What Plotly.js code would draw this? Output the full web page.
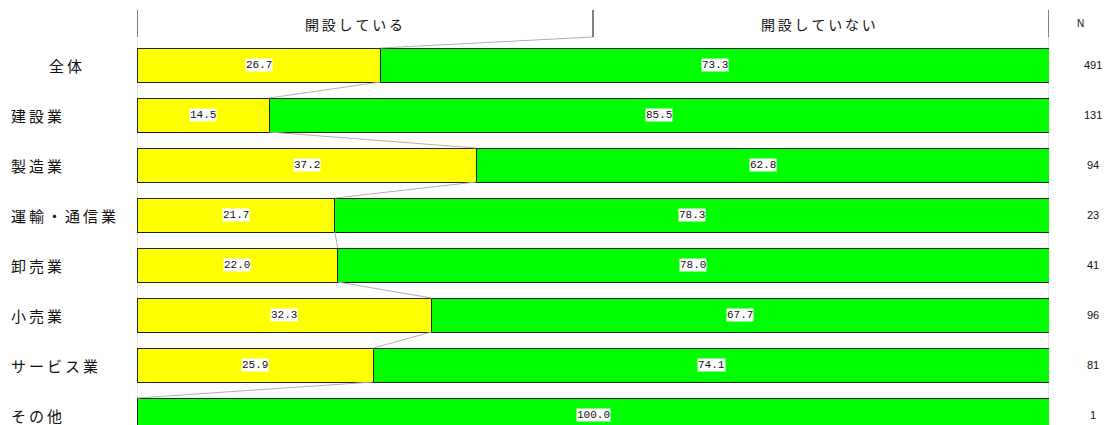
<!DOCTYPE html>
<html><head><meta charset="utf-8">
<script src="https://cdn.plot.ly/plotly-3.0.1.min.js"></script>
<style>html,body{margin:0;padding:0;background:#fff}#c{width:1107px;height:425px}</style>
</head><body><div id="c"></div>
<script>
const categories = ["全体","建設業","製造業","運輸・通信業","卸売業","小売業","サービス業","その他"];
const open = [26.7,14.5,37.2,21.7,22.0,32.3,25.9,0.0];
const notOpen = [73.3,85.5,62.8,78.3,78.0,67.7,74.1,100.0];
const nValues = [491,131,94,23,41,96,81,1];
const seriesNames = ["開設している","開設していない"];

const spaced = s => Array.from(s).join('\u2009');
const ys = categories.map((_,i)=>i);
const BW = 0.68;
const traces = [
  {type:'bar',orientation:'h',y:ys,x:open,name:seriesNames[0],width:BW,
   marker:{color:'#ffff00',line:{color:'#222',width:1}},hoverinfo:'skip'},
  {type:'bar',orientation:'h',y:ys,x:notOpen,name:seriesNames[1],width:BW,
   marker:{color:'#00ff00',line:{color:'#222',width:1}},hoverinfo:'skip'}
];
const connX=[], connY=[];
connX.push(50, open[0]); connY.push(-0.56, -BW/2); connX.push(null); connY.push(null);
for(let i=0;i<open.length-1;i++){
  connX.push(open[i], open[i+1]); connY.push(i+BW/2, i+1-BW/2);
  connX.push(null); connY.push(null);
}
traces.push({type:'scatter',mode:'lines',x:connX,y:connY,line:{color:'#b0b0b0',width:1},hoverinfo:'skip',showlegend:false});

const shapes = [];
[0,100].forEach(x=>shapes.push({type:'line',xref:'x',yref:'y',x0:x,x1:x,y0:-0.56,y1:7.5,line:{color:'#c8c8c8',width:1},layer:'below'}));
[0,50,100].forEach(x=>shapes.push({type:'line',xref:'x',yref:'y',x0:x,x1:x,y0:-1.1,y1:-0.56,line:{color:'#000',width:1}}));

const ann = [];
const PW = 912;
const catFont = {family:'Noto Sans CJK JP',size:15,color:'#111'};
categories.forEach((c,i)=>{
  if(i===0){
    ann.push({xref:'paper',yref:'y',x:(65-137)/PW,y:i,text:spaced(c),showarrow:false,xanchor:'center',font:catFont});
  } else {
    ann.push({xref:'paper',yref:'y',x:(9-137)/PW,y:i,text:spaced(c),showarrow:false,xanchor:'left',font:catFont});
  }
  ann.push({xref:'paper',yref:'y',x:(1093-137)/PW,y:i,text:String(nValues[i]),showarrow:false,xanchor:'center',font:{family:'Liberation Sans',size:11,color:'#111'}});
  if(open[i]>0) ann.push({xref:'x',yref:'y',x:open[i]/2,y:i,text:open[i].toFixed(1),showarrow:false,bgcolor:'#fff',borderpad:0,font:{family:'Liberation Mono',size:11,color:'#111'}});
  if(notOpen[i]>0) ann.push({xref:'x',yref:'y',x:open[i]+notOpen[i]/2,y:i,text:notOpen[i].toFixed(1),showarrow:false,bgcolor:'#fff',borderpad:0,font:{family:'Liberation Mono',size:11,color:'#111'}});
});
const hdrFont = {family:'Noto Sans CJK JP',size:14,color:'#111'};
ann.push({xref:'x',yref:'y',x:(354-137)/PW*100,y:-0.83,text:spaced(seriesNames[0]),showarrow:false,font:hdrFont});
ann.push({xref:'x',yref:'y',x:(818-137)/PW*100,y:-0.83,text:spaced(seriesNames[1]),showarrow:false,font:hdrFont});
ann.push({xref:'paper',yref:'y',x:(1086-137)/PW,y:-0.83,text:'N',showarrow:false,font:{family:'Liberation Sans',size:10,color:'#111'}});

const layout = {
  width:1107,height:425,margin:{l:137,r:58,t:0,b:0},
  barmode:'stack',showlegend:false,paper_bgcolor:'#fff',plot_bgcolor:'#fff',
  xaxis:{range:[0,100],visible:false,fixedrange:true},
  yaxis:{range:[7.2,-1.3],visible:false,fixedrange:true},
  shapes:shapes,annotations:ann
};
Plotly.newPlot('c',traces,layout,{staticPlot:true});
</script></body></html>
